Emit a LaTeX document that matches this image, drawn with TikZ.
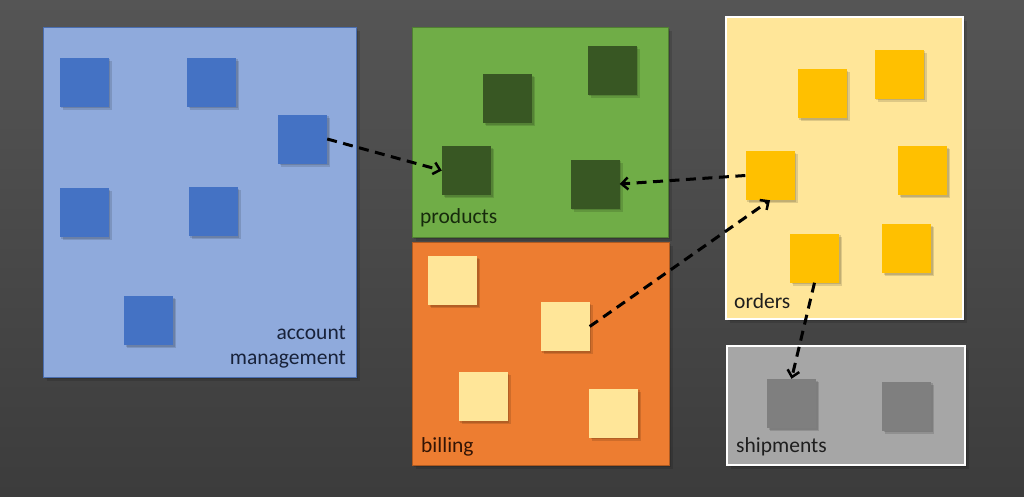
\documentclass[tikz,border=0pt]{standalone}
\usepackage{fontspec}
\setmainfont{Carlito}
\usetikzlibrary{arrows.meta}
\definecolor{bgtop}{HTML}{555555}
\definecolor{bgbot}{HTML}{3C3C3C}
\definecolor{acctfill}{HTML}{8FAADC}
\definecolor{acctline}{HTML}{4A6EB0}
\definecolor{acctsq}{HTML}{4472C4}
\definecolor{prodfill}{HTML}{70AD47}
\definecolor{prodline}{HTML}{507E32}
\definecolor{prodsq}{HTML}{385723}
\definecolor{billfill}{HTML}{ED7D31}
\definecolor{billline}{HTML}{AE5A21}
\definecolor{billsq}{HTML}{FFE699}
\definecolor{ordfill}{HTML}{FFE699}
\definecolor{ordsq}{HTML}{FFC000}
\definecolor{shipfill}{HTML}{A6A6A6}
\definecolor{shipsq}{HTML}{7F7F7F}
\tikzset{
  dropshadow/.style={fill=black, fill opacity=0.13, draw=none},
  ctxbox/.style={rectangle, inner sep=0pt, line width=1pt},
  sq/.style={rectangle, inner sep=0pt, minimum width=49pt, minimum height=49pt, draw=none},
  lbl/.style={inner sep=0pt, font=\fontsize{21.5}{25}\selectfont},
  dep/.style={draw=black, line width=3pt, dash pattern=on 10pt off 6.5pt,
    -{Straight Barb[length=6.5pt, width=12pt, line width=2.5pt]}}
}
\newcommand{\ctx}[6]{% name, cx, cy, w, h, style
  \fill[dropshadow] (#2-#4/2+2,#3-#5/2+2) rectangle (#2+#4/2+2,#3+#5/2+2);
  \fill[dropshadow] (#2-#4/2+4,#3-#5/2+4) rectangle (#2+#4/2+4,#3+#5/2+4);
  \node[ctxbox, minimum width=#4pt, minimum height=#5pt, #6] (#1) at (#2,#3) {};}
\newcommand{\msq}[4]{% name, cx, cy, colour
  \fill[dropshadow] (#2-24.5+1.5,#3-24.5+1.5) rectangle (#2+24.5+1.5,#3+24.5+1.5);
  \fill[dropshadow] (#2-24.5+3,#3-24.5+3) rectangle (#2+24.5+3,#3+24.5+3);
  \node[sq, fill=#4] (#1) at (#2,#3) {};}
\begin{document}
\begin{tikzpicture}[x=1pt, y=-1pt]
\useasboundingbox (0,0) rectangle (1024,496);
\shade[top color=bgtop, bottom color=bgbot] (0,0) rectangle (1024,496);
% contexts
\ctx{acct}{199.5}{202}{313}{350}{fill=acctfill, draw=acctline}
\ctx{prod}{540}{132}{256}{210}{fill=prodfill, draw=prodline}
\ctx{bill}{540.5}{353.5}{257}{223}{fill=billfill, draw=billline}
\ctx{ord}{844.5}{168}{237}{302}{fill=ordfill, draw=white, line width=1.5pt}
\ctx{ship}{846}{405.5}{238}{119}{fill=shipfill, draw=white, line width=1.5pt}
% account management
\msq{a1}{84}{82}{acctsq}
\msq{a2}{211.5}{82}{acctsq}
\msq{a3}{302.5}{139}{acctsq}
\msq{a4}{84}{212.5}{acctsq}
\msq{a5}{213}{211.5}{acctsq}
\msq{a6}{148.5}{320.5}{acctsq}
% products
\msq{p1}{507.5}{98.5}{prodsq}
\msq{p2}{612}{70}{prodsq}
\msq{p3}{466.5}{170.5}{prodsq}
\msq{p4}{595}{184}{prodsq}
% billing
\msq{b1}{452.5}{280.5}{billsq}
\msq{b2}{565}{326.5}{billsq}
\msq{b3}{483}{396.5}{billsq}
\msq{b4}{613.5}{413}{billsq}
% orders
\msq{o1}{822}{93.5}{ordsq}
\msq{o2}{899}{74}{ordsq}
\msq{o3}{770}{175.5}{ordsq}
\msq{o4}{922.5}{170.5}{ordsq}
\msq{o5}{814.5}{258}{ordsq}
\msq{o6}{906.5}{248.5}{ordsq}
% shipments
\msq{s1}{791.5}{403.5}{shipsq}
\msq{s2}{906.5}{406}{shipsq}
% labels
\node[lbl, anchor=east, align=right, text={rgb,255:red,24;green,34;blue,58}] (acctlbl) at (346,347) {account\\management};
\node[lbl, anchor=west, text={rgb,255:red,22;green,42;blue,12}] (prodlbl) at (420,218) {products};
\node[lbl, anchor=west, text={rgb,255:red,50;green,20;blue,5}] (billlbl) at (421,447) {billing};
\node[lbl, anchor=west, text={rgb,255:red,30;green,30;blue,30}] (ordlbl) at (734,301) {orders};
\node[lbl, anchor=west, text={rgb,255:red,30;green,30;blue,30}] (shiplbl) at (736,447) {shipments};
% dependencies
\draw[dep] (a3.east) -- (p3.west);
\draw[dep] (o3.west) -- (p4.east);
\draw[dep] (b2.east) -- (o3.south);
\draw[dep] (o5.south) -- (s1.north);
\end{tikzpicture}
\end{document}
